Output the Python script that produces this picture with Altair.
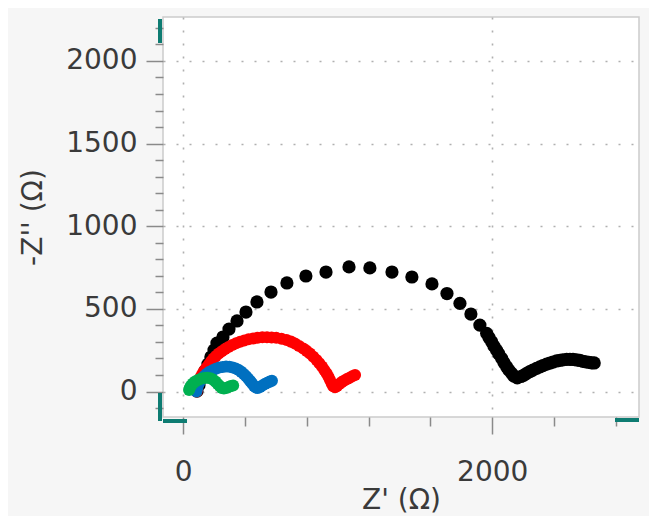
import altair as alt
import pandas as pd

# ---- data (Z' in ohm, -Z'' in ohm) ----
black_x = [89, 102, 121, 140, 160, 179, 199, 218, 257, 296, 348, 406, 477, 568, 671, 794, 924,
           1073, 1208, 1351, 1480, 1610, 1707, 1791, 1862, 1920,
           1964, 1979, 1996, 2011, 2028, 2043, 2061, 2076, 2093, 2108, 2126, 2140, 2162,
           2186, 2206, 2223, 2244, 2263, 2287, 2309, 2328, 2352, 2373, 2393, 2417, 2438,
           2457, 2482, 2503, 2523, 2546, 2567, 2587, 2606, 2626, 2643, 2660]
black_y = [3, 40, 82, 124, 166, 209, 251, 293, 330, 378, 427, 481, 542, 602, 657, 699, 723,
           754, 748, 723, 693, 651, 593, 533, 469, 402,
           352, 327, 301, 275, 251, 227, 201, 175, 150, 130, 110, 94, 83,
           91, 100, 110, 121, 130, 140, 149, 157, 166, 172, 178, 185, 189,
           192, 195, 195, 194, 191, 188, 183, 180, 177, 174, 173]

red_x = [87, 90, 95, 101, 108, 117, 128, 140, 153, 167, 181, 196, 212, 230, 250, 271, 293,
         317, 342, 368, 395, 423, 452, 482, 512, 542, 572, 602, 636, 669, 697, 723, 750,
         777, 799, 820, 842, 863, 881, 898, 913, 928, 940, 950, 961, 971, 983, 996, 1010,
         1026, 1043, 1060, 1077, 1094, 1112]
red_y = [0, 20, 40, 60, 78, 96, 113, 130, 147, 165, 183, 200, 215, 230, 244, 257, 269,
         281, 292, 301, 309, 316, 321, 325, 328, 328, 327, 325, 319, 312, 302, 290, 276,
         261, 246, 230, 211, 191, 171, 151, 131, 110, 90, 70, 49, 32, 26, 33, 45,
         57, 67, 76, 84, 92, 100]

blue_x = [85, 88, 93, 100, 110, 122, 136, 152, 170, 190, 211, 233, 255, 277, 299, 320, 340,
          359, 376, 392, 407, 421, 434, 446, 458, 470, 483, 497, 512, 528, 544, 560, 574]
blue_y = [0, 16, 32, 48, 64, 80, 94, 107, 119, 129, 138, 145, 149, 151, 150, 146, 139,
          130, 119, 106, 92, 78, 63, 48, 34, 24, 21, 27, 36, 45, 53, 60, 65]

green_x = [38, 42, 50, 62, 77, 95, 115, 135, 155, 175, 193, 209, 223, 236, 249, 263, 278,
           293, 308, 323]
green_y = [10, 22, 35, 48, 60, 70, 78, 82, 83, 80, 72, 60, 46, 33, 22, 18, 22,
           28, 33, 37]

x_ticks = [0, 400, 800, 1200, 1600, 2000, 2400, 2800]
y_ticks = list(range(-100, 2201, 100))

FONT = "DejaVu Sans"
TXT = "#3a3a3a"

x_major = "datum.value % 2000 === 0"
y_major = "datum.value % 500 === 0"

x_axis = alt.Axis(
    values=x_ticks, format="d",
    labelExpr=f"{x_major} ? datum.label : ''",
    tickSize={"condition": {"test": x_major, "value": 17}, "value": 9},
    gridOpacity={"condition": {"test": x_major, "value": 1}, "value": 0},
    gridDash=[2, 11], gridColor="#b0b0b0", gridWidth=1.6,
    domain=False, tickColor="#8a8a8a", tickWidth=1.5,
    labelFont=FONT, labelFontSize=28, labelColor=TXT, labelPadding=24,
    labelFlush=False, labelOverlap=False,
    titleFont=FONT, titleFontSize=28, titleFontWeight="normal", titleColor=TXT,
    titleX=238, titleY=83, titleBaseline="middle", titleAlign="center",
)
y_axis = alt.Axis(
    values=y_ticks, format="d",
    labelExpr=f"{y_major} ? datum.label : ''",
    tickSize={"condition": {"test": y_major, "value": 17}, "value": 8},
    gridOpacity={"condition": {"test": y_major, "value": 1}, "value": 0},
    gridDash=[2, 11], gridColor="#b0b0b0", gridWidth=1.6,
    domain=False, tickColor="#8a8a8a", tickWidth=1.5,
    labelFont=FONT, labelFontSize=28, labelColor=TXT, labelPadding=9,
    labelFlush=False, labelOverlap=False,
    titleFont=FONT, titleFontSize=28, titleFontWeight="normal", titleColor=TXT,
    titleX=-130, titleY=200, titleBaseline="middle", titleAlign="center", titleAngle=270,
)

x_enc = alt.X("x:Q", scale=alt.Scale(domain=[-131, 2950], nice=False, zero=False),
              axis=x_axis, title="Z' (Ω)")
y_enc = alt.Y("y:Q", scale=alt.Scale(domain=[-154, 2266], nice=False, zero=False),
              axis=y_axis, title="-Z'' (Ω)")

series = [
    (black_x, black_y, "#000000", 175),
    (red_x, red_y, "#ff0000", 145),
    (blue_x, blue_y, "#0070c0", 145),
    (green_x, green_y, "#00b050", 145),
]

layers = []
for xs, ys, col, sz in series:
    df = pd.DataFrame({"x": xs, "y": ys})
    layers.append(
        alt.Chart(df).mark_circle(color=col, size=sz, opacity=1).encode(x=x_enc, y=y_enc)
    )

# teal axis-break handles at the frame corners
TEAL = "#0e7c72"
one = pd.DataFrame({"k": [0]})
handles = [
    dict(x=alt.value(-3), y=alt.value(2), y2=alt.value(26)),
    dict(x=alt.value(-3), y=alt.value(376), y2=alt.value(404)),
    dict(x=alt.value(0), x2=alt.value(24), y=alt.value(404)),
    dict(x=alt.value(452), x2=alt.value(476), y=alt.value(403)),
]
for h in handles:
    layers.append(alt.Chart(one).mark_rule(color=TEAL, strokeWidth=4, strokeCap="butt").encode(**h))

chart = alt.layer(*layers).properties(
    width=476, height=400,
    autosize=alt.AutoSizeParams(type="none"),
    padding={"left": 155, "top": 9, "right": 10, "bottom": 99},
    background="#f6f6f6",
).configure_view(stroke="#cccccc", strokeWidth=1.5, fill="white")

chart.save("out.html", embed_options={"renderer": "svg", "actions": False})
